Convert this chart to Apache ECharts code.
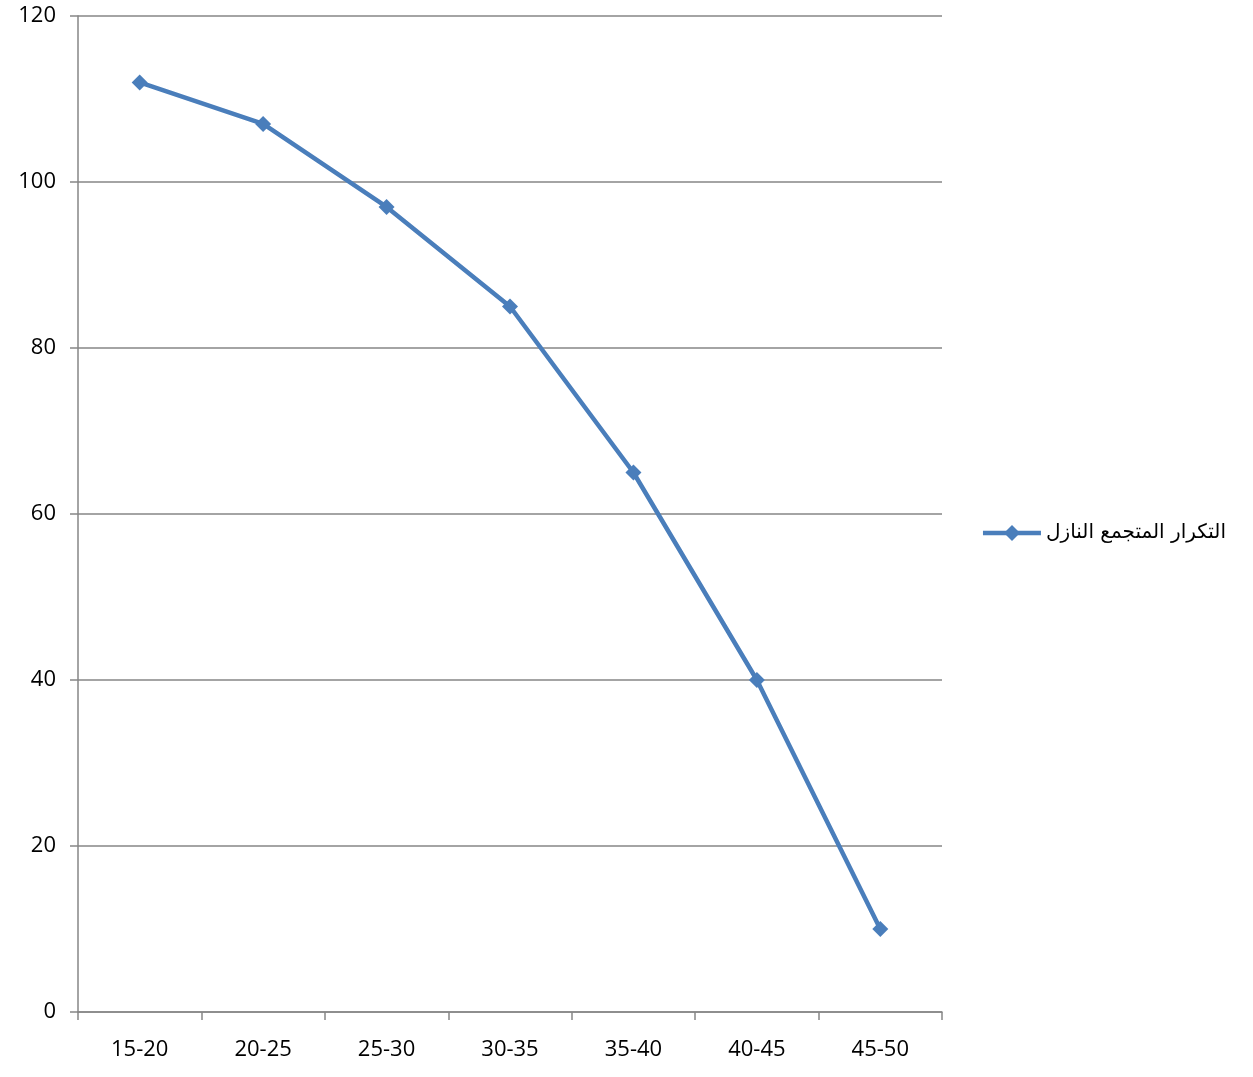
<!DOCTYPE html>
<html>
<head>
<meta charset="utf-8">
<script src="https://cdn.jsdelivr.net/npm/echarts@6/dist/echarts.min.js"></script>
<style>
  html, body { margin: 0; padding: 0; background: #fff; }
  #chart { width: 1253px; height: 1077px; }
</style>
</head>
<body>
<div id="chart"></div>
<script>
// Age classes and the descending cumulative frequency for each
const categories = ['15-20', '20-25', '25-30', '30-35', '35-40', '40-45', '45-50'];
const cumulativeDown = [112, 107, 97, 85, 65, 40, 10];
const seriesName = 'التكرار المتجمع النازل';
const yTicks = { min: 0, max: 120, interval: 20 };

const chart = echarts.init(document.getElementById('chart'));
chart.setOption({
  backgroundColor: '#ffffff',
  animation: false,
  grid: { left: 78, right: 311, top: 16, bottom: 65, containLabel: false },
  legend: {
    right: 22,
    top: 518,
    orient: 'vertical',
    itemWidth: 58,
    itemHeight: 20,
    itemGap: 4,
    data: [seriesName],
    lineStyle: { width: 4.5, color: '#4a7ebb' },
    itemStyle: { color: '#4a7ebb' },
    textStyle: { fontFamily: 'DejaVu Sans', fontSize: 20, color: '#000' }
  },
  xAxis: {
    type: 'category',
    data: categories,
    boundaryGap: true,
    axisLine: { lineStyle: { color: '#868686', width: 1.5 } },
    axisTick: { show: true, length: 8, inside: false, alignWithLabel: false, lineStyle: { color: '#868686', width: 1.5 } },
    axisLabel: { color: '#000', fontFamily: 'Open Sans', fontSize: 22, margin: 27 },
    splitLine: { show: false }
  },
  yAxis: {
    type: 'value',
    min: yTicks.min,
    max: yTicks.max,
    interval: yTicks.interval,
    axisLine: { show: true, lineStyle: { color: '#868686', width: 1.5 } },
    axisTick: { show: true, length: 8, lineStyle: { color: '#868686', width: 1.5 } },
    axisLabel: { color: '#000', fontFamily: 'Open Sans', fontSize: 22, margin: 22 },
    splitLine: { show: true, lineStyle: { color: '#868686', width: 1.5 } }
  },
  series: [{
    name: seriesName,
    type: 'line',
    data: cumulativeDown,
    symbol: 'diamond',
    symbolSize: 16,
    lineStyle: { color: '#4a7ebb', width: 4.5 },
    itemStyle: { color: '#4a7ebb' }
  }]
});
</script>
</body>
</html>
